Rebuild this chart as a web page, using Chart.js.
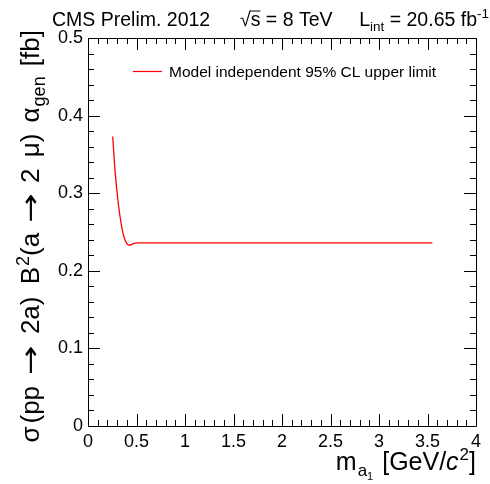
<!DOCTYPE html>
<html>
<head>
<meta charset="utf-8">
<script src="https://cdn.jsdelivr.net/npm/chart.js@4"></script>
<style>
html,body{margin:0;padding:0;background:#fff;}
#wrap{width:490px;height:484px;}
</style>
</head>
<body>
<div id="wrap"><canvas id="c" width="490" height="484"></canvas></div>
<script>
// Data
const massValues = [0.255, 0.278, 0.312, 0.347, 0.381, 0.426, 0.467, 0.502, 1.0, 1.5, 2.0, 2.5, 3.0, 3.55];
const limitValues = [0.373, 0.330, 0.287, 0.257, 0.240, 0.233, 0.235, 0.236, 0.236, 0.236, 0.236, 0.236, 0.236, 0.236];
const seriesLabel = 'Model independent 95% CL upper limit';
const xTickValues = [0, 0.5, 1, 1.5, 2, 2.5, 3, 3.5, 4];
const yTickValues = [0, 0.1, 0.2, 0.3, 0.4, 0.5];

const FONT = '"Liberation Sans", Arial, Helvetica, sans-serif';
const ARROWFONT = '"DejaVu Sans", sans-serif';

function fmt(v){ return String(Number(v.toFixed(2))); }

const decorPlugin = {
  id: 'decor',
  afterDraw(chart){
    const ctx = chart.ctx;
    const a = chart.chartArea;
    const xs = chart.scales.x, ys = chart.scales.y;
    ctx.save();
    // frame
    ctx.strokeStyle = '#000';
    ctx.lineWidth = 1;
    ctx.beginPath();
    ctx.rect(Math.round(a.left)+0.5, Math.round(a.top)+0.5, Math.round(a.right-a.left), Math.round(a.bottom-a.top));
    ctx.stroke();
    // inward ticks
    const MAJ = 12, MIN = 6;
    ctx.beginPath();
    for (let i = 0; i <= 40; i++) {
      const v = i/10;
      const px = Math.round(xs.getPixelForValue(v)) + 0.5;
      const len = (i % 5 === 0) ? MAJ : MIN;
      ctx.moveTo(px, a.bottom); ctx.lineTo(px, a.bottom - len);
      ctx.moveTo(px, a.top); ctx.lineTo(px, a.top + len);
    }
    for (let i = 0; i <= 25; i++) {
      const v = i*0.02;
      const py = Math.round(ys.getPixelForValue(v)) + 0.5;
      const len = (i % 5 === 0) ? MAJ : MIN;
      ctx.moveTo(a.left, py); ctx.lineTo(a.left + len, py);
      ctx.moveTo(a.right, py); ctx.lineTo(a.right - len, py);
    }
    ctx.stroke();

    ctx.fillStyle = '#000';
    ctx.textBaseline = 'alphabetic';
    ctx.textAlign = 'left';

    function runPieces(pieces, x, y){
      let cx = x;
      for (const p of pieces) {
        ctx.font = p.font;
        const sx = p.sx || 1;
        const w = ctx.measureText(p.t).width * sx;
        if (sx !== 1) {
          ctx.save();
          ctx.translate(cx, y + (p.dy||0));
          ctx.scale(sx, 1);
          ctx.fillText(p.t, 0, 0);
          ctx.restore();
        } else {
          ctx.fillText(p.t, cx, y + (p.dy||0));
        }
        if (p.over) {
          ctx.beginPath();
          ctx.lineWidth = 1;
          ctx.moveTo(cx - 1, y + p.over); ctx.lineTo(cx + w, y + p.over);
          ctx.stroke();
        }
        cx += w + (p.gap||0);
      }
      return cx;
    }
    function widthPieces(pieces){
      let w = 0;
      for (const p of pieces){ ctx.font = p.font; w += ctx.measureText(p.t).width * (p.sx||1) + (p.gap||0); }
      return w;
    }

    // top title
    const FT = '19.5px ' + FONT, FS = '13.5px ' + FONT;
    runPieces([{t:'CMS Prelim. 2012', font:FT}], 52, 26);
    runPieces([{t:'\u221A', font:FT}, {t:'s', font:FT, over:-15}, {t:' = 8 TeV', font:FT}], 240, 26);
    const lt = [{t:'L', font:FT}, {t:'int', font:FS, dy:5}, {t:' = 20.65 fb', font:FT}, {t:'-1', font:FS, dy:-8}];
    runPieces(lt, 489 - widthPieces(lt), 26);

    // legend
    const ds = chart.data.datasets[0];
    ctx.strokeStyle = ds.borderColor;
    ctx.lineWidth = 1.2;
    ctx.beginPath();
    ctx.moveTo(133, 71.5); ctx.lineTo(162, 71.5);
    ctx.stroke();
    ctx.font = '15.5px ' + FONT;
    ctx.fillText(ds.label, 169, 77);

    // x title
    const F25 = '25px ' + FONT, F17 = '17px ' + FONT, F11 = '11px ' + FONT;
    const xt = [
      {t:'m', font:F25, gap:1}, {t:'a', font:F17, dy:6}, {t:'1', font:F11, dy:10, gap:2},
      {t:' [GeV/', font:F25}, {t:'c', font:'italic 25px ' + FONT, gap:1}, {t:'2', font:F17, dy:-10}, {t:']', font:F25}
    ];
    ctx.strokeStyle = '#000';
    const xw = widthPieces(xt);
    runPieces(xt, 476 - xw, 470);

    // y title (rotated)
    const F26 = '26px ' + FONT, F18 = '18px ' + FONT;
    const AR = '26px ' + ARROWFONT;
    const yt = [
      {t:'\u03C3', font:F26, gap:3}, {t:'(pp ', font:F26, gap:4}, {t:'\u2192', font:AR, sx:1.35, gap:4}, {t:' 2a) ', font:F26, gap:5}, {t:'B', font:F26, gap:1}, {t:'2', font:F18, dy:-10},
      {t:'(a ', font:F26, gap:3}, {t:'\u2192', font:AR, sx:1.35, gap:3}, {t:' 2 ', font:F26, gap:4}, {t:'\u03BC) ', font:F26, gap:4}, {t:'\u03B1', font:F26, gap:1}, {t:'gen', font:F18, dy:6, gap:3}, {t:' [fb]', font:F26}
    ];
    const yw = widthPieces(yt);
    ctx.save();
    ctx.translate(39, 30 + yw);
    ctx.rotate(-Math.PI/2);
    runPieces(yt, 0, 0);
    ctx.restore();

    ctx.restore();
  }
};

new Chart(document.getElementById('c'), {
  type: 'line',
  data: {
    datasets: [{
      label: seriesLabel,
      data: massValues.map((m, i) => ({x: m, y: limitValues[i]})),
      borderColor: '#ff0000',
      borderWidth: 1.3,
      pointRadius: 0,
      fill: false,
      cubicInterpolationMode: 'monotone'
    }]
  },
  options: {
    responsive: false,
    animation: false,
    layout: { padding: { top: 38, right: 14, left: 0, bottom: 0 } },
    plugins: { legend: { display: false }, tooltip: { enabled: false }, title: { display: false } },
    scales: {
      x: {
        type: 'linear', min: 0, max: 4,
        afterFit(s){ s.height = 58; },
        afterBuildTicks(s){ s.ticks = xTickValues.map(v => ({value: v})); },
        grid: { display: false, drawTicks: false },
        border: { display: false },
        ticks: { autoSkip: false, maxRotation: 0, padding: 5, color: '#000', font: { family: FONT, size: 18 }, callback: v => fmt(v) }
      },
      y: {
        type: 'linear', min: 0, max: 0.5,
        afterFit(s){ s.width = 88; },
        afterBuildTicks(s){ s.ticks = yTickValues.map(v => ({value: v})); },
        grid: { display: false, drawTicks: false },
        border: { display: false },
        ticks: { autoSkip: false, padding: 5, color: '#000', font: { family: FONT, size: 18 }, callback: v => fmt(v) }
      }
    }
  },
  plugins: [decorPlugin]
});
</script>
</body>
</html>
